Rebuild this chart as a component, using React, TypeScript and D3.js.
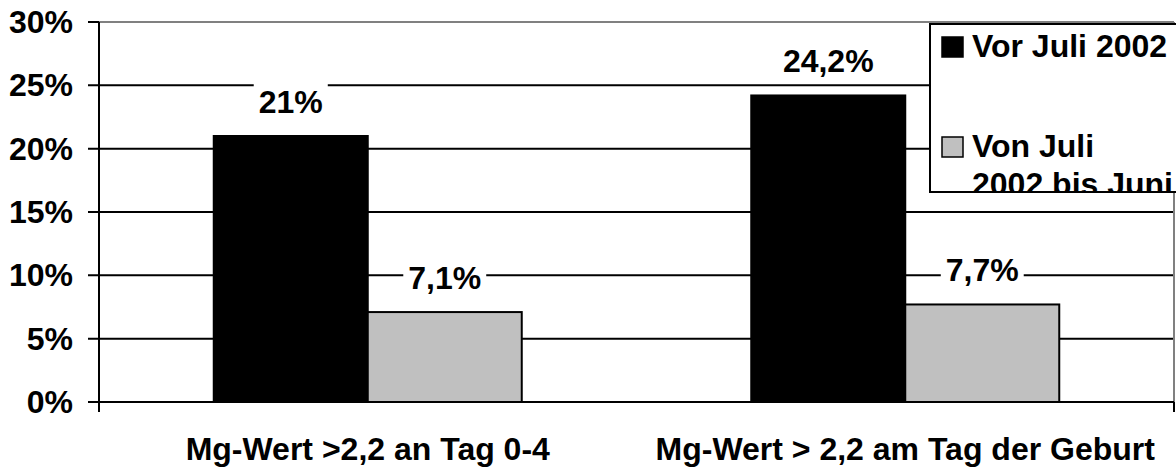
import React, { useEffect, useRef } from "react";
import * as d3 from "d3";

const categories = ["Mg-Wert >2,2 an Tag 0-4", "Mg-Wert > 2,2 am Tag der Geburt"];
const seriesNames = ["Vor Juli 2002", "Von Juli 2002 bis Juni"];
const seriesBefore = [21, 24.2];
const seriesAfter = [7.1, 7.7];
const valueLabelsBefore = ["21%", "24,2%"];
const valueLabelsAfter = ["7,1%", "7,7%"];
const yTicks = [0, 5, 10, 15, 20, 25, 30];

const W = 1176;
const H = 468;
const FONT = "'Liberation Sans', Arial, Helvetica, sans-serif";
const FS = 32;

export default function App() {
  const ref = useRef<SVGSVGElement>(null);

  useEffect(() => {
    document.body.style.margin = "0";
    const svg = d3.select(ref.current);
    svg.selectAll("*").remove();

    const left = 99;
    const right = 1174;
    const top = 22;
    const bottom = 402;

    const y = d3.scaleLinear().domain([0, 30]).range([bottom, top]);
    const x = d3.scaleBand<string>().domain(categories).range([left, right]).padding(0);
    const groupHalf = 154;
    const inner = d3.scaleBand<number>().domain([0, 1]).range([-groupHalf, groupHalf]).padding(0);

    const g = svg.append("g");

    // gridlines
    yTicks.forEach((t) => {
      g.append("line")
        .attr("x1", 88)
        .attr("x2", right)
        .attr("y1", y(t))
        .attr("y2", y(t))
        .attr("stroke", t === 30 ? "#808080" : "#000")
        .attr("stroke-width", 2);
      if (t === 30) {
        g.append("line").attr("x1", 88).attr("x2", left).attr("y1", y(t)).attr("y2", y(t)).attr("stroke", "#000").attr("stroke-width", 2);
      }
    });
    // right plot border
    g.append("line").attr("x1", right).attr("x2", right).attr("y1", top).attr("y2", bottom).attr("stroke", "#808080").attr("stroke-width", 2);

    // tick labels
    yTicks.forEach((t) => {
      g.append("text")
        .attr("x", 73)
        .attr("y", y(t) + 11)
        .attr("text-anchor", "end")
        .attr("font-family", FONT)
        .attr("font-weight", "bold")
        .attr("font-size", FS)
        .attr("fill", "#000")
        .text(`${t}%`);
    });

    // bars
    const series = [seriesBefore, seriesAfter];
    const fills = ["#000000", "#c0c0c0"];
    const labels = [valueLabelsBefore, valueLabelsAfter];
    categories.forEach((c, ci) => {
      const cx = (x(c) as number) + x.bandwidth() / 2;
      series.forEach((s, si) => {
        const bx = cx + (inner(si) as number);
        g.append("rect")
          .attr("x", bx)
          .attr("y", y(s[ci]))
          .attr("width", inner.bandwidth())
          .attr("height", bottom - y(s[ci]))
          .attr("fill", fills[si])
          .attr("stroke", "#000")
          .attr("stroke-width", 2);
      });
    });

    // zero line & axes on top
    g.append("line").attr("x1", 88).attr("x2", right).attr("y1", bottom).attr("y2", bottom).attr("stroke", "#000").attr("stroke-width", 2);
    g.append("line").attr("x1", left).attr("x2", left).attr("y1", top).attr("y2", bottom + 10).attr("stroke", "#000").attr("stroke-width", 2);
    g.append("line").attr("x1", right).attr("x2", right).attr("y1", bottom).attr("y2", bottom + 10).attr("stroke", "#000").attr("stroke-width", 2);

    // value labels
    categories.forEach((c, ci) => {
      const cx = (x(c) as number) + x.bandwidth() / 2;
      series.forEach((s, si) => {
        const lx = cx + (inner(si) as number) + inner.bandwidth() / 2;
        const ly = y(s[ci]) - 23;
        const lg = g.append("g");
        const rect = lg.append("rect").attr("fill", "#fff");
        const txt = lg
          .append("text")
          .attr("x", lx)
          .attr("y", ly)
          .attr("text-anchor", "middle")
          .attr("font-family", FONT)
          .attr("font-weight", "bold")
          .attr("font-size", FS)
          .attr("fill", "#000")
          .text(labels[si][ci]);
        const bb = (txt.node() as SVGTextElement).getBBox();
        rect.attr("x", bb.x - 5).attr("y", bb.y - 2).attr("width", bb.width + 10).attr("height", bb.height + 4);
      });
    });

    // category labels
    categories.forEach((c) => {
      g.append("text")
        .attr("x", (x(c) as number) + x.bandwidth() / 2)
        .attr("y", 460)
        .attr("text-anchor", "middle")
        .attr("font-family", FONT)
        .attr("font-weight", "bold")
        .attr("font-size", FS)
        .attr("fill", "#000")
        .text(c);
    });

    // legend
    const lx0 = 930;
    const ly0 = 24;
    const lw = 270;
    const lh = 168;
    const defs = svg.append("defs");
    defs.append("clipPath").attr("id", "legclip").append("rect").attr("x", lx0).attr("y", ly0).attr("width", lw).attr("height", lh);
    const leg = svg.append("g");
    leg.append("rect").attr("x", lx0).attr("y", ly0).attr("width", lw).attr("height", lh).attr("fill", "#fff").attr("stroke", "#000").attr("stroke-width", 2);
    const lc = leg.append("g").attr("clip-path", "url(#legclip)");
    const entries = [
      { fill: fills[0], lines: [seriesNames[0]], sy: 37 },
      { fill: fills[1], lines: ["Von Juli", "2002 bis Juni"], sy: 137 },
    ];
    entries.forEach((e) => {
      lc.append("rect").attr("x", 942).attr("y", e.sy).attr("width", 21).attr("height", 20).attr("fill", e.fill).attr("stroke", "#000").attr("stroke-width", 1.5);
      e.lines.forEach((ln, li) => {
        lc.append("text")
          .attr("x", 972)
          .attr("y", e.sy + 20 + li * 38)
          .attr("font-family", FONT)
          .attr("font-weight", "bold")
          .attr("font-size", FS)
          .attr("fill", "#000")
          .text(ln);
      });
    });
  }, []);

  return <svg ref={ref} width={W} height={H} style={{ display: "block", background: "#fff" }} />;
}
